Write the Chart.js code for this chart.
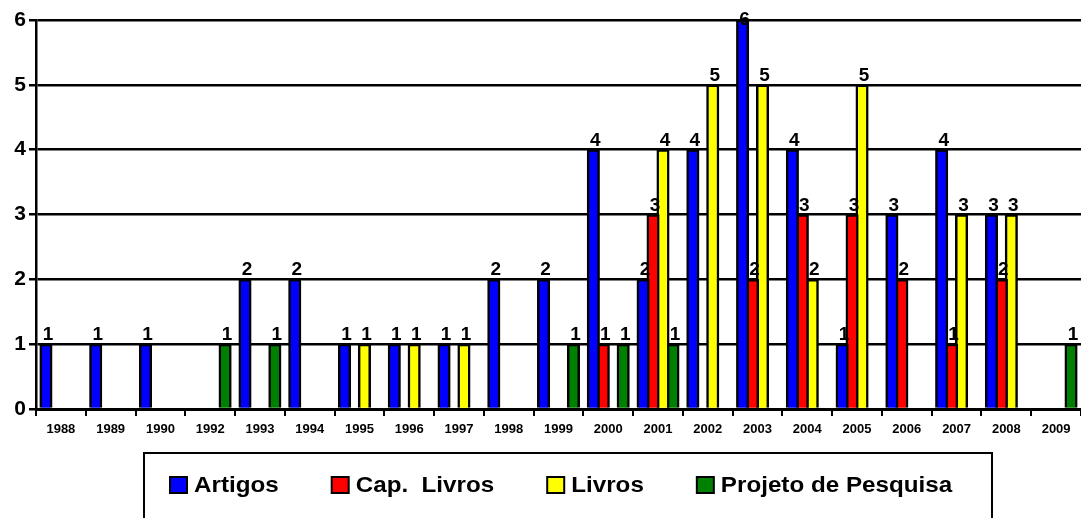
<!DOCTYPE html>
<html>
<head>
<meta charset="utf-8">
<script src="https://cdn.jsdelivr.net/npm/chart.js@4/dist/chart.umd.min.js"></script>
<style>
  html, body { margin: 0; padding: 0; background: #fff; }
  #wrap { width: 1081px; height: 518px; }
</style>
</head>
<body>
<div id="wrap"><canvas id="c" width="1081" height="518"></canvas></div>
<script>
// anos (1991 nao aparece no grafico original)
const anos = ['1988', '1989', '1990', '1992', '1993', '1994', '1995', '1996', '1997', '1998', '1999',
              '2000', '2001', '2002', '2003', '2004', '2005', '2006', '2007', '2008', '2009'];

const artigos   = [1, 1, 1, 0, 2, 2, 1, 1, 1, 2, 2, 4, 2, 4, 6, 4, 1, 3, 4, 3, 0];
const capLivros = [0, 0, 0, 0, 0, 0, 0, 0, 0, 0, 0, 1, 3, 0, 2, 3, 3, 2, 1, 2, 0];
const livros    = [0, 0, 0, 0, 0, 0, 1, 1, 1, 0, 0, 0, 4, 5, 5, 2, 5, 0, 3, 3, 0];
const projetos  = [0, 0, 0, 1, 1, 0, 0, 0, 0, 0, 1, 1, 1, 0, 0, 0, 0, 0, 0, 0, 1];

const yTicks = [0, 1, 2, 3, 4, 5, 6];

const FONT = '"Liberation Sans", Arial, sans-serif';

function serie(label, data, cor) {
  return {
    label: label,
    data: data,
    backgroundColor: cor,
    borderColor: '#000',
    borderWidth: 2.5,
    borderSkipped: 'bottom'
  };
}

// rotulos de valor em cima das barras
const rotulos = {
  id: 'rotulos',
  afterDatasetsDraw(chart) {
    const ctx = chart.ctx;
    ctx.save();
    ctx.font = 'bold 19px ' + FONT;
    ctx.fillStyle = '#000';
    ctx.textAlign = 'center';
    ctx.textBaseline = 'alphabetic';
    chart.data.datasets.forEach((ds, i) => {
      chart.getDatasetMeta(i).data.forEach((bar, j) => {
        const v = ds.data[j];
        if (!v) return;
        // o Excel empurra o rotulo para dentro quando nao cabe em cima
        const y = Math.max(bar.y - 4, 25);
        ctx.fillText(String(v), bar.x + 2, y);
      });
    });
    ctx.restore();
  }
};

// legenda em caixa, estilo Excel
const legendaCaixa = {
  id: 'legendaCaixa',
  afterDraw(chart) {
    const ctx = chart.ctx;
    ctx.save();
    ctx.strokeStyle = '#000';
    ctx.lineWidth = 2;
    ctx.strokeRect(144, 453, 848, 80);

    ctx.font = 'bold 22px ' + FONT;
    ctx.textBaseline = 'middle';
    let x = 170;
    const y = 485;
    chart.data.datasets.forEach(ds => {
      ctx.fillStyle = ds.backgroundColor;
      ctx.fillRect(x, y - 8, 17, 16);
      ctx.lineWidth = 2;
      ctx.strokeRect(x, y - 8, 17, 16);
      const w = ctx.measureText(ds.label).width * 1.1;
      ctx.fillStyle = '#000';
      ctx.save();
      ctx.translate(x + 24, y);
      ctx.scale(1.1, 1);
      ctx.fillText(ds.label, 0, 1);
      ctx.restore();
      x += 24 + w + 53;
    });
    ctx.restore();
  }
};

new Chart(document.getElementById('c'), {
  type: 'bar',
  data: {
    labels: anos,
    datasets: [
      serie('Artigos', artigos, '#0000FF'),
      serie('Cap.  Livros', capLivros, '#FF0000'),
      serie('Livros', livros, '#FFFF00'),
      serie('Projeto de Pesquisa', projetos, '#008000')
    ]
  },
  options: {
    responsive: false,
    animation: false,
    layout: { padding: { top: 20, right: 0, bottom: 79, left: 0 } },
    datasets: {
      bar: { categoryPercentage: 0.8, barPercentage: 1.25 }
    },
    plugins: {
      legend: { display: false },
      tooltip: { enabled: false }
    },
    scales: {
      x: {
        grid: {
          offset: true,
          drawOnChartArea: false,
          color: '#000',
          lineWidth: 2,
          tickLength: 7
        },
        border: { color: '#000', width: 3 },
        ticks: {
          color: '#000',
          font: { family: FONT, size: 13, weight: 'bold' },
          padding: 6,
          maxRotation: 0,
          autoSkip: false
        },
        afterFit(scale) { scale.height = 30; }
      },
      y: {
        min: 0,
        max: 6,
        afterBuildTicks(scale) { scale.ticks = yTicks.map(v => ({ value: v })); },
        grid: {
          color: '#000',
          lineWidth: 2.5,
          tickLength: 7
        },
        border: { color: '#000', width: 2.5 },
        ticks: {
          color: '#000',
          font: { family: FONT, size: 21, weight: 'bold' },
          padding: 3
        },
        afterFit(scale) { scale.width = 36; }
      }
    }
  },
  plugins: [rotulos, legendaCaixa]
});
</script>
</body>
</html>
